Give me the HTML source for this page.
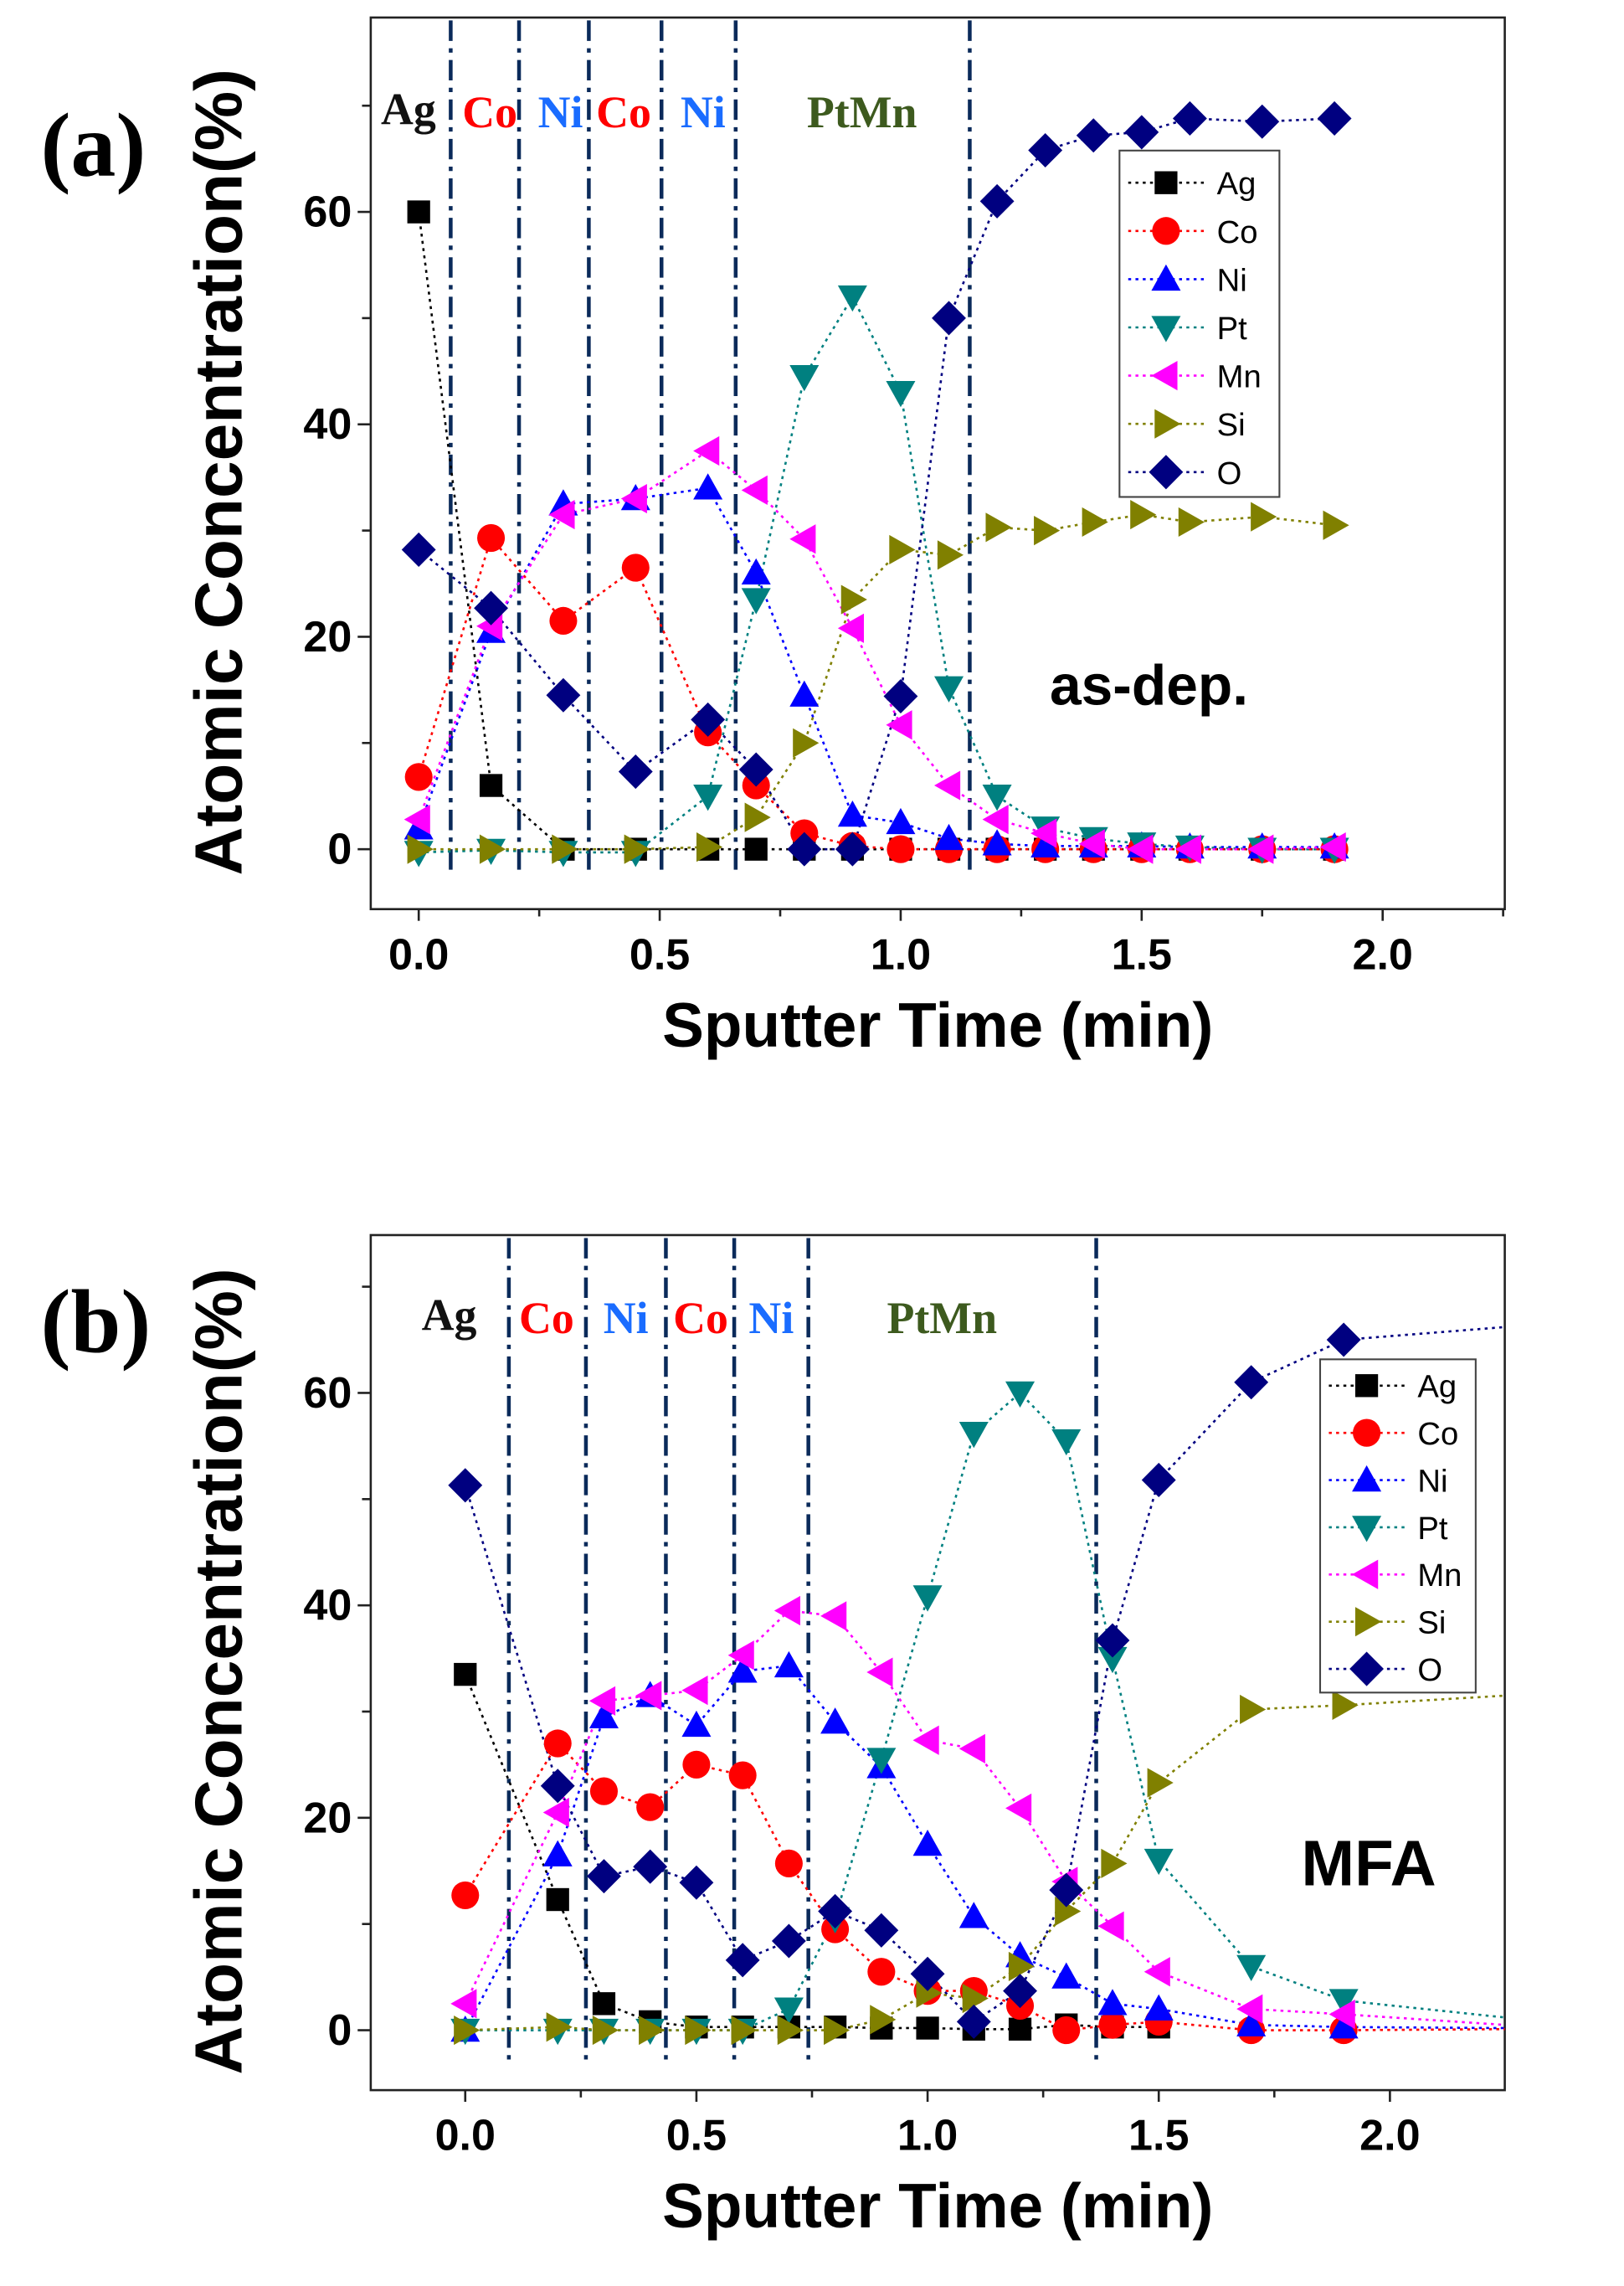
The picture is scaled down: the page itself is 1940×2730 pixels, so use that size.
<!DOCTYPE html>
<html><head><meta charset="utf-8"><style>html,body{margin:0;padding:0;background:#fff}svg{display:block}</style></head>
<body>
<svg id="s" xmlns="http://www.w3.org/2000/svg" width="1940" height="2730" viewBox="0 0 1117 1564" preserveAspectRatio="none"></svg>
<script>
const S=document.getElementById('s');let h='';
const col={Ag:'#000',Co:'#f00',Ni:'#00f',Pt:'#008080',Mn:'#f0f',Si:'#808000',O:'#000080'};
const names=['Ag','Co','Ni','Pt','Mn','Si','O'];
function mk(n,x,y){const k=1.12,c=col[n];const a=7*k,b=9*k,r=8.5*k,d=10.5*k;
 switch(n){case'Ag':return `<rect x="${x-a}" y="${y-a}" width="${2*a}" height="${2*a}" fill="${c}"/>`;
 case'Co':return `<circle cx="${x}" cy="${y}" r="${r}" fill="${c}"/>`;
 case'Ni':return `<polygon points="${x},${y-b} ${x+b},${y+a} ${x-b},${y+a}" fill="${c}"/>`;
 case'Pt':return `<polygon points="${x},${y+b} ${x+b},${y-a} ${x-b},${y-a}" fill="${c}"/>`;
 case'Mn':return `<polygon points="${x-b},${y} ${x+a},${y-b} ${x+a},${y+b}" fill="${c}"/>`;
 case'Si':return `<polygon points="${x+b},${y} ${x-a},${y-b} ${x-a},${y+b}" fill="${c}"/>`;
 case'O':return `<polygon points="${x},${y-d} ${x+d},${y} ${x},${y+d} ${x-d},${y}" fill="${c}"/>`;}}
function panel(p){
 const X=t=>p.x0+p.sx*t,Y=v=>p.y0-7.267*v;
 h+=`<rect x="255" y="${p.top}" width="780" height="${p.bot-p.top}" fill="none" stroke="#222" stroke-width="1.5"/>`;
 for(let t=0;t<=2.26;t+=0.25){const x=X(t);if(x>1035)break;h+=`<line x1="${x}" y1="${p.bot}" x2="${x}" y2="${p.bot+(t*4%2==0?8:5)}" stroke="#222" stroke-width="1.5"/>`;}
 [0,0.5,1,1.5,2].forEach(t=>h+=`<text x="${X(t)}" y="${p.bot+41}" font-family="Liberation Sans" font-weight="bold" font-size="30" text-anchor="middle">${t.toFixed(1)}</text>`);
 for(let v=0;v<=70;v+=10){h+=`<line x1="255" y1="${Y(v)}" x2="${v%20?249:246}" y2="${Y(v)}" stroke="#222" stroke-width="1.5"/>`;}
 [0,20,40,60].forEach(v=>h+=`<text x="242" y="${Y(v)+10}" font-family="Liberation Sans" font-weight="bold" font-size="30" text-anchor="end">${v}</text>`);
 h+=`<text x="645" y="${p.bot+94}" font-family="Liberation Sans" font-weight="bold" font-size="43" text-anchor="middle">Sputter Time (min)</text>`;
 const cy=(p.top+p.bot)/2+6;
 h+=`<text transform="translate(166,${cy}) rotate(-90)" font-family="Liberation Sans" font-weight="bold" font-size="46" text-anchor="middle">Atomic Concentration(%)</text>`;
 h+=`<text x="28" y="${p.top+p.labY}" font-family="Liberation Serif" font-weight="bold" font-size="62">${p.lab}</text>`;
 p.dash.forEach(x=>h+=`<line x1="${x}" y1="${p.top+2}" x2="${x}" y2="${p.dashEnd}" stroke="#0a2a5a" stroke-width="2.6" stroke-dasharray="14,5,3,5"/>`);
 p.regions.forEach(r=>h+=`<text x="${r[0]}" y="${r[1]}" font-family="Liberation Serif" font-weight="bold" font-size="31" fill="${r[3]}">${r[2]}</text>`);
 names.forEach(n=>{const d=p.data[n];let pts=d.map((v,i)=>v==null?null:[X(p.t[i]),Y(v)]).filter(a=>a);
  let line=pts.slice();if(p.ext&&p.ext[n]!=null)line.push([1035,Y(p.ext[n])]);
  h+=`<polyline points="${line.map(a=>a.join(',')).join(' ')}" fill="none" stroke="${col[n]}" stroke-width="1.5" stroke-dasharray="2,3"/>`;});
 names.forEach(n=>{const d=p.data[n];d.forEach((v,i)=>{if(v!=null)h+=mk(n,X(p.t[i]),Y(v));});});
 const L=p.leg;h+=`<rect x="${L.x}" y="${L.y}" width="${L.w}" height="${L.h}" fill="#fff" stroke="#444" stroke-width="1.2"/>`;
 names.forEach((n,i)=>{const y=L.y0+i*L.dy;h+=`<line x1="${L.x+6}" y1="${y}" x2="${L.x+58}" y2="${y}" stroke="${col[n]}" stroke-width="1.5" stroke-dasharray="2,3"/>`+mk(n,L.x+32,y)+`<text x="${L.x+67}" y="${y+8}" font-family="Liberation Sans" font-size="22">${n}</text>`;});
 h+=`<text x="${p.note[0]}" y="${p.note[1]}" font-family="Liberation Sans" font-weight="bold" font-size="${p.note[3]}">${p.note[2]}</text>`;
}
panel({x0:288,sx:331.5,y0:581,top:12,bot:622,lab:'(a)',labY:108,
 dash:[310,357,405,455,506,667],dashEnd:598,
 regions:[[262,85,'Ag','#111'],[318,87,'Co','#f00'],[370,87,'Ni','#1a6cff'],[410,87,'Co','#f00'],[468,87,'Ni','#1a6cff'],[555,87,'PtMn','#3d5a1e']],
 t:[0,0.15,0.3,0.45,0.6,0.7,0.8,0.9,1.0,1.1,1.2,1.3,1.4,1.5,1.6,1.75,1.9],
 data:{Ag:[60,6,0,0,0,0,0,0,0,0,0,0,0,0,0,0,0],
 Co:[6.8,29.3,21.5,26.5,11,6,1.5,0.3,0,0,0,0,0,0,0,0,0],
 Ni:[2,20.5,32.5,33,34,26,14.5,3.2,2.5,1,0.5,0.3,0.3,0.3,0.2,0.2,0.2],
 Pt:[-0.3,-0.1,-0.3,-0.3,5,23.5,44.5,52,43,15.2,5,2,1,0.5,0.2,0,0],
 Mn:[2.8,21,31.5,33,37.5,33.8,29.2,20.8,11.7,6,2.8,1.5,0.5,0,0,0,0.2],
 Si:[0,0,0,0,0.2,3,10,23.5,28.2,27.7,30.3,30,30.8,31.5,30.8,31.3,30.5],
 O:[28.2,22.7,14.5,7.3,12.2,7.5,0,0,14.4,50,61,65.8,67.2,67.5,68.8,68.5,68.8]},
 leg:{x:770,y:103,w:110,h:237,y0:125,dy:33},note:[722,482,'as-dep.',39]});
panel({x0:320,sx:318,y0:1389,top:845,bot:1430,lab:'(b)',labY:80,
 dash:[350,403,458,505,556,754],dashEnd:1410,
 regions:[[290,910,'Ag','#111'],[357,912,'Co','#f00'],[415,912,'Ni','#1a6cff'],[463,912,'Co','#f00'],[515,912,'Ni','#1a6cff'],[610,912,'PtMn','#3d5a1e']],
 t:[0,0.2,0.3,0.4,0.5,0.6,0.7,0.8,0.9,1.0,1.1,1.2,1.3,1.4,1.5,1.7,1.9],
 data:{Ag:[33.5,12.3,2.5,0.8,0.3,0.3,0.3,0.3,0.2,0.2,0.1,0.1,0.5,0.3,0.3,null,null],
 Co:[12.7,27,22.5,21,25,24,15.7,9.5,5.5,3.7,3.7,2.3,0,0.5,0.8,0,0],
 Ni:[0,16.5,29.5,31.5,28.7,33.8,34.3,29,24.8,17.5,10.7,7,5,2.5,2,0.5,0.3],
 Pt:[0,0,0,0,0,0,2,10.5,25.5,40.8,56.2,60,55.5,35,16,6,2.8],
 Mn:[2.5,20.5,31,31.5,32,35.3,39.5,39,33.7,27.3,26.5,20.9,14,9.8,5.5,2,1.5],
 Si:[0,0.3,0,0,0,0,0,0,1,3.5,3,6,11.2,15.7,23.3,30.2,30.6],
 O:[51.3,23,14.5,15.4,13.9,6.6,8.4,11.2,9.4,5.3,0.8,3.7,13.2,36.7,51.8,61,65]},
 ext:{Pt:1.2,Si:31.5,O:66.2,Mn:0.5,Ni:0.2,Co:0.1},
 leg:{x:908,y:930,w:107,h:228,y0:948,dy:32.3},note:[895,1290,'MFA',44]});
S.innerHTML=h;
</script>
</body></html>
